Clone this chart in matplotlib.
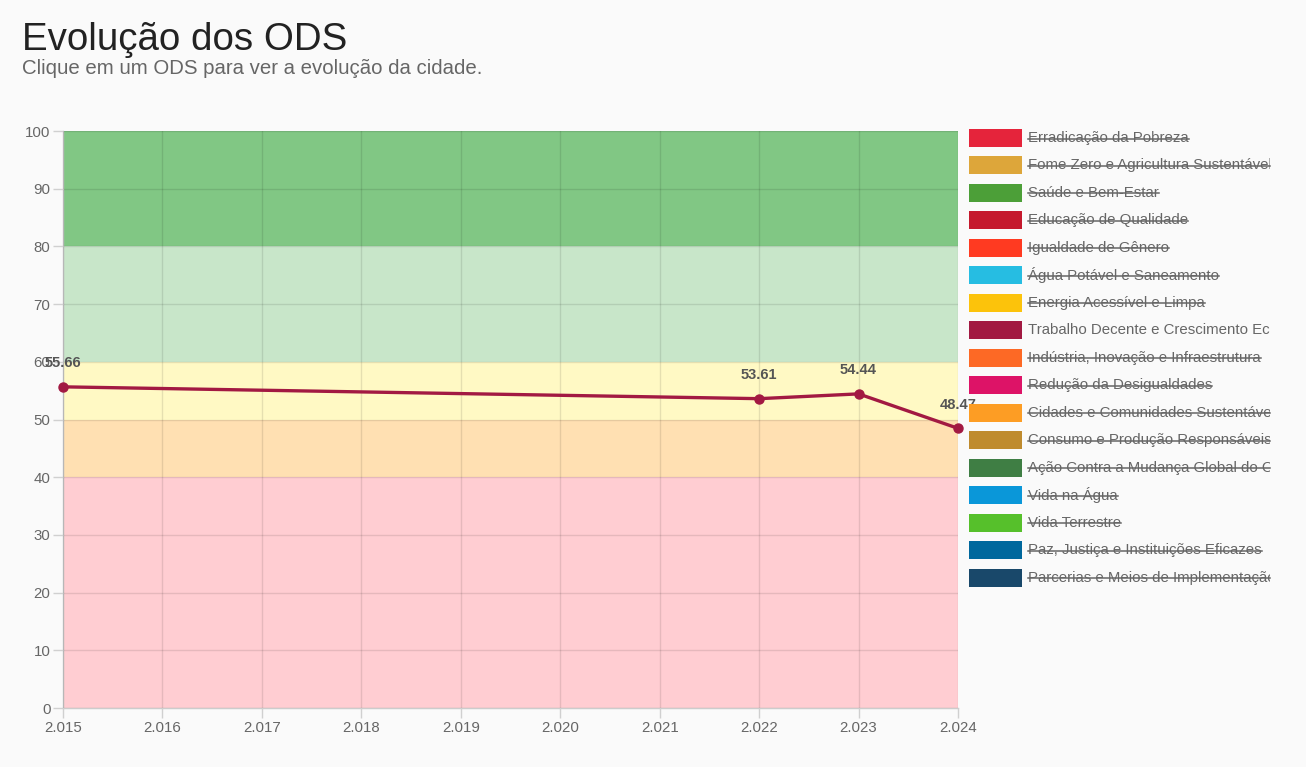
import matplotlib
matplotlib.use("Agg")
import matplotlib.pyplot as plt
from matplotlib.lines import Line2D
from matplotlib.patches import Rectangle
from matplotlib.transforms import Bbox
from matplotlib.ticker import FuncFormatter, MultipleLocator

plt.rcParams['font.family'] = ['Liberation Sans', 'DejaVu Sans']

# dados
anos = [2015, 2022, 2023, 2024]
valores = [55.66, 53.61, 54.44, 48.47]

# faixas de desempenho (limite inferior, limite superior, cor)
faixas_lim = [(0, 40), (40, 50), (50, 60), (60, 80), (80, 100)]
faixas_cor = ['#ffcdd2', '#ffe0b2', '#fff9c4', '#c8e6c9', '#81c784']

ods_nomes = [
    "Erradicação da Pobreza",
    "Fome Zero e Agricultura Sustentável",
    "Saúde e Bem-Estar",
    "Educação de Qualidade",
    "Igualdade de Gênero",
    "Água Potável e Saneamento",
    "Energia Acessível e Limpa",
    "Trabalho Decente e Crescimento Econômico",
    "Indústria, Inovação e Infraestrutura",
    "Redução da Desigualdades",
    "Cidades e Comunidades Sustentáveis",
    "Consumo e Produção Responsáveis",
    "Ação Contra a Mudança Global do Clima",
    "Vida na Água",
    "Vida Terrestre",
    "Paz, Justiça e Instituições Eficazes",
    "Parcerias e Meios de Implementação",
]
ods_cores = [
    '#E5243B', '#DDA63A', '#4C9F38', '#C5192D', '#FF3A21', '#26BDE2',
    '#FCC30B', '#A21942', '#FD6925', '#DD1367', '#FD9D24', '#BF8B2E',
    '#3F7E44', '#0A97D9', '#56C02B', '#00689D', '#19486A',
]
ods_ativo = 7  # índice do ODS selecionado (Trabalho Decente)

W, H = 1306, 767
fig = plt.figure(figsize=(W / 100, H / 100), dpi=100, facecolor='#fafafa')

# ---- título ----
fig.text(22 / W, 1 - 50 / H, "Evolução dos ODS", fontsize=27.7, color='#222222',
         ha='left', va='baseline')
fig.text(22 / W, 1 - 74 / H, "Clique em um ODS para ver a evolução da cidade.",
         fontsize=14.7, color='#666666', ha='left', va='baseline')

# ---- gráfico ----
x0, x1, ytop, ybot = 63, 958, 131, 708
ax = fig.add_axes([x0 / W, 1 - ybot / H, (x1 - x0) / W, (ybot - ytop) / H])
ax.set_facecolor('#fafafa')

for (lo, hi), cor in zip(faixas_lim, faixas_cor):
    ax.axhspan(lo, hi, color=cor, zorder=0, lw=0)

ax.set_xlim(2015, 2024)
ax.set_ylim(0, 100)
ax.xaxis.set_major_locator(MultipleLocator(1))
ax.yaxis.set_major_locator(MultipleLocator(10))
ax.xaxis.set_major_formatter(FuncFormatter(lambda v, p: f"{int(round(v)):,}".replace(",", ".")))
ax.grid(True, color='black', alpha=0.1, lw=1, zorder=1)
ax.set_axisbelow(False)
for s in ['top', 'right']:
    ax.spines[s].set_visible(False)
for s in ['left', 'bottom']:
    ax.spines[s].set_color('#cccccc')
    ax.spines[s].set_linewidth(1)
ax.tick_params(axis='both', colors='#d0d0d0', labelcolor='#666666', labelsize=10.8,
               length=7, width=1, pad=2)

cor_linha = ods_cores[ods_ativo]
ax.plot(anos, valores, color=cor_linha, lw=2.4, marker='o', ms=6.5,
        zorder=5, clip_on=False, solid_capstyle='round')
for a, v in zip(anos, valores):
    ax.annotate(f"{v:.2f}", (a, v), xytext=(0, 17), textcoords='offset points',
                ha='center', va='center', fontsize=10.5, fontweight='bold',
                color='#555555', zorder=6, annotation_clip=False)

# ---- legenda ----
clip = Bbox.from_extents(0, 0, 1270, H)
y_lin0, passo = 138, 27.47
textos = []
for i, (nome, cor) in enumerate(zip(ods_nomes, ods_cores)):
    yc = y_lin0 + i * passo
    fig.patches.append(Rectangle((969 / W, 1 - (yc + 9) / H), 53 / W, 18 / H,
                                 transform=fig.transFigure, facecolor=cor,
                                 edgecolor='none'))
    t = fig.text(1028 / W, 1 - yc / H, nome, fontsize=10.8, color='#666666',
                 ha='left', va='center', clip_on=True)
    t.set_clip_box(clip)
    textos.append((i, t, yc))

fig.canvas.draw()
for i, t, yc in textos:
    if i == ods_ativo:
        continue
    bb = t.get_window_extent()
    xe = min(bb.x1, 1270)
    fig.lines.append(Line2D([bb.x0 / W, xe / W], [1 - (yc + 0.5) / H] * 2,
                            transform=fig.transFigure, color='#666666', lw=1.1))

fig.savefig("out.png", dpi=100, facecolor=fig.get_facecolor())
